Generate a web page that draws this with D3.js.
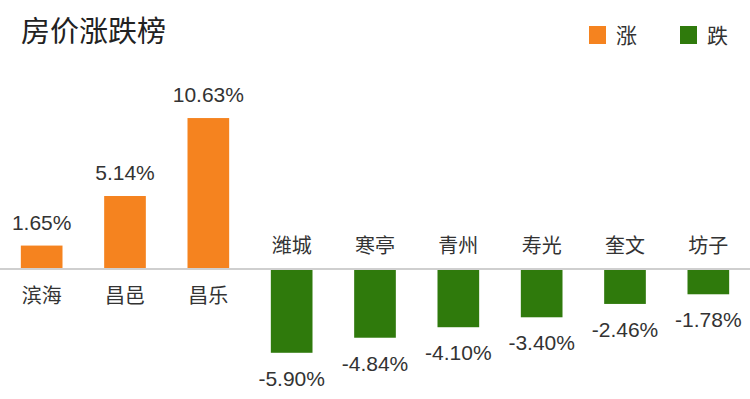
<!DOCTYPE html>
<html>
<head>
<meta charset="utf-8">
<script src="https://cdn.jsdelivr.net/npm/d3@7"></script>
<style>
  body { margin: 0; background: #fff; }
  text { font-family: "Noto Sans CJK SC", "Noto Sans", sans-serif; fill: #333; }
</style>
</head>
<body>
<div id="chart"></div>
<script>
// data
const cities = ["滨海", "昌邑", "昌乐", "潍城", "寒亭", "青州", "寿光", "奎文", "坊子"];
const changes = [1.65, 5.14, 10.63, -5.90, -4.84, -4.10, -3.40, -2.46, -1.78];
const legendLabels = ["涨", "跌"];

const W = 750, H = 399;
const upColor = "#f5831f", downColor = "#2f7a0c";

const svg = d3.select("#chart").append("svg")
    .attr("width", W)
    .attr("height", H);

// scales
const x = d3.scaleBand()
    .domain(cities)
    .range([0, W])
    .paddingInner(0.5)
    .paddingOuter(0.25);

const y = d3.scaleLinear()
    .domain([0, 10])
    .range([269, 127]);

// title
svg.append("text")
    .attr("x", 21)
    .attr("y", 42)
    .style("font-size", "29px")
    .style("fill", "#222")
    .text("房价涨跌榜");

// legend
const legend = svg.append("g");
[upColor, downColor].forEach((c, i) => {
    const lx = 589 + i * 91;
    legend.append("rect")
        .attr("x", lx)
        .attr("y", 26)
        .attr("width", 17)
        .attr("height", 18)
        .attr("fill", c);
    legend.append("text")
        .attr("x", lx + 27)
        .attr("y", 43)
        .style("font-size", "21px")
        .text(legendLabels[i]);
});

// baseline
svg.append("line")
    .attr("x1", 0)
    .attr("x2", W)
    .attr("y1", y(0))
    .attr("y2", y(0))
    .attr("stroke", "#cfcfcf")
    .attr("stroke-width", 2);

// bars
svg.selectAll(".bar")
    .data(changes)
    .enter().append("rect")
    .attr("class", "bar")
    .attr("x", (d, i) => x(cities[i]))
    .attr("y", d => d >= 0 ? y(d) : y(0) + 1)
    .attr("width", x.bandwidth())
    .attr("height", d => Math.abs(y(d) - y(0)) - 1)
    .attr("fill", d => d >= 0 ? upColor : downColor);

// value labels
svg.selectAll(".val")
    .data(changes)
    .enter().append("text")
    .attr("class", "val")
    .attr("x", (d, i) => x(cities[i]) + x.bandwidth() / 2)
    .attr("y", d => d >= 0 ? y(d) - 16 : y(d) + 33)
    .attr("text-anchor", "middle")
    .style("font-family", "'Liberation Sans', Arial, sans-serif")
    .style("font-size", "21px")
    .text(d => d.toFixed(2) + "%");

// category labels
svg.selectAll(".cat")
    .data(changes)
    .enter().append("text")
    .attr("class", "cat")
    .attr("x", (d, i) => x(cities[i]) + x.bandwidth() / 2)
    .attr("y", d => d >= 0 ? y(0) + 34 : y(0) - 16)
    .attr("text-anchor", "middle")
    .style("font-size", "20px")
    .text((d, i) => cities[i]);
</script>
</body>
</html>
